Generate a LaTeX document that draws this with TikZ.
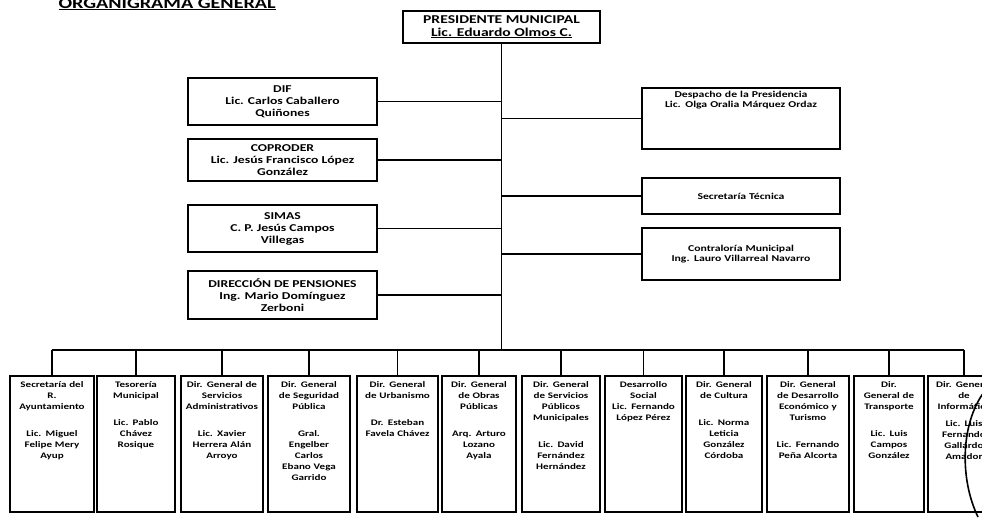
\documentclass[tikz,border=0pt]{standalone}
\usepackage{fontspec}
\setmainfont{Carlito}[FakeStretch=1.3]
\usetikzlibrary{positioning}

\tikzset{
  unit/.style={draw, line width=1.2pt, align=center, inner sep=2pt},
  side/.style={unit, minimum width=189pt, font=\fontsize{10.5}{12}\selectfont\bfseries},
  staff/.style={unit, text width=194pt, font=\fontsize{9}{10.5}\selectfont\bfseries},
  dept/.style={unit, inner xsep=2pt, inner ysep=4pt, text height=7pt, text depth=121pt,
    font=\fontsize{8.5}{11}\selectfont\bfseries},
  link/.style={line width=1.2pt}
}

\begin{document}
\begin{tikzpicture}[x=1pt,y=-1pt,on grid]
\useasboundingbox (0,0) rectangle (982,517);
\clip (0,0) rectangle (982,517);

\node[anchor=base west, font=\fontsize{15.5}{18}\selectfont\bfseries] (title) at (55,8) {\underline{ORGANIGRAMA GENERAL}};

\node[unit, minimum width=197pt, minimum height=32pt, font=\fontsize{12}{12.5}\selectfont\bfseries] (pres) at (501.5,27)
  {PRESIDENTE MUNICIPAL\\\underline{Lic. Eduardo Olmos C.}};

% organismos (izquierda)
\node[side, minimum height=47pt] (dif) at (282.5,101.5) {DIF\\Lic. Carlos Caballero\\Quiñones};
\node[side, minimum height=42pt] (coproder) [below=58.5pt of dif] {COPRODER\\Lic. Jesús Francisco López\\González};
\node[side, minimum height=47pt] (simas) [below=68.5pt of coproder] {SIMAS\\C. P. Jesús Campos\\Villegas};
\node[side, minimum height=48pt] (pens) [below=66.5pt of simas] {DIRECCIÓN DE PENSIONES\\Ing. Mario Domínguez\\Zerboni};

% staff (derecha)
\node[staff, text height=7pt, text depth=50pt] (desp) at (741,118.5) {Despacho de la Presidencia\\Lic. Olga Oralia Márquez Ordaz};
\node[staff, minimum height=36pt] (tecnica) [below=77.5pt of desp] {Secretaría Técnica};
\node[staff, minimum height=52pt] (contra) [below=58pt of tecnica] {Contraloría Municipal\\Ing. Lauro Villarreal Navarro};

% direcciones
\node[dept, text width=80pt] (b1) at (52,444) {Secretaría del\\R.\\Ayuntamiento\\[16pt]Lic. Miguel\\Felipe Mery\\Ayup};
\node[dept, text width=74pt] (b2) [right=84pt of b1] {Tesorería\\Municipal\\[16pt]Lic. Pablo\\Chávez\\Rosique};
\node[dept, text width=78pt] (b3) [right=86pt of b2] {Dir. General de\\Servicios\\Administrativos\\[16pt]Lic. Xavier\\Herrera Alán\\Arroyo};
\node[dept, text width=78pt] (b4) [right=87pt of b3] {Dir. General\\de Seguridad\\Pública\\[16pt]Gral.\\Engelber\\Carlos\\Ebano Vega\\Garrido};
\node[dept, text width=77pt] (b5) [right=88.5pt of b4] {Dir. General\\de Urbanismo\\[16pt]Dr. Esteban\\Favela Chávez};
\node[dept, text width=70pt] (b6) [right=81.5pt of b5] {Dir. General\\de Obras\\Públicas\\[16pt]Arq. Arturo\\Lozano\\Ayala};
\node[dept, text width=74pt] (b7) [right=82pt of b6] {Dir. General\\de Servicios\\Públicos\\Municipales\\[16pt]Lic. David\\Fernández\\Hernández};
\node[dept, text width=73pt] (b8) [right=82.5pt of b7] {Desarrollo\\Social\\Lic. Fernando\\López Pérez};
\node[dept, text width=72pt] (b9) [right=80.5pt of b8] {Dir. General\\de Cultura\\[16pt]Lic. Norma\\Leticia\\González\\Córdoba};
\node[dept, text width=78pt] (b10) [right=84pt of b9] {Dir. General\\de Desarrollo\\Económico y\\Turismo\\[16pt]Lic. Fernando\\Peña Alcorta};
\node[dept, text width=66pt] (b11) [right=81pt of b10] {Dir.\\General de\\Transporte\\[16pt]Lic. Luis\\Campos\\González};
\node[dept, text width=68pt] (b12) [right=75pt of b11] {Dir. General\\de\\Informática\\[6pt]Lic. Luis\\Fernando\\Gallardo\\Amador};

% lineas
\coordinate (bus) at (501.5,350);
\draw[link] (pres.south) -- (bus);
\foreach \n in {dif,coproder,simas,pens}
  \draw[link] (\n.east) -- (\n.east -| bus);
\foreach \n in {desp,tecnica,contra}
  \draw[link] (\n.west) -- (\n.west -| bus);
\draw[link] (b1.north |- bus) -- (b12.north |- bus);
\foreach \i in {1,...,12}
  \draw[link] (b\i.north |- bus) -- (b\i.north);

\draw[line width=1.6pt] (984,392) .. controls (960,425) and (960,480) .. (978,517);
\end{tikzpicture}
\end{document}
